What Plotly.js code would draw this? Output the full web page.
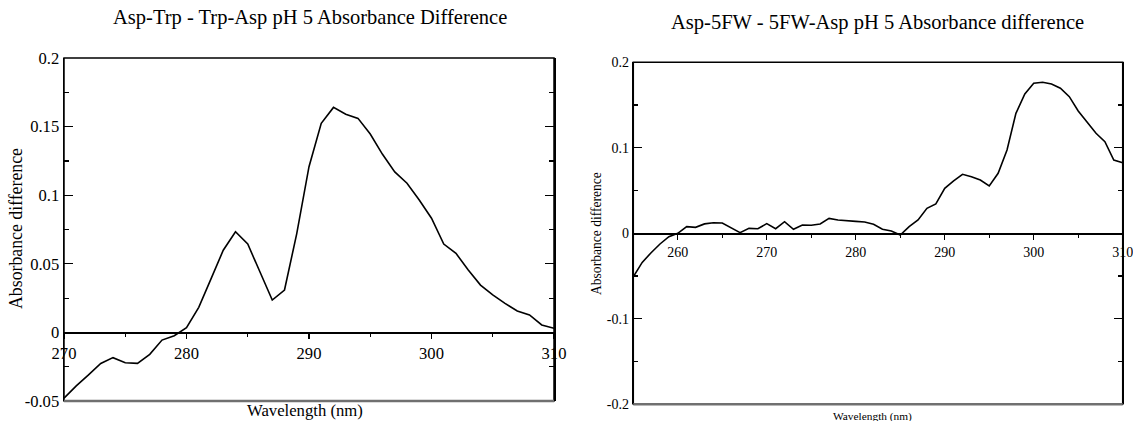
<!DOCTYPE html>
<html>
<head>
<meta charset="utf-8">
<script src="https://cdn.plot.ly/plotly-3.0.1.min.js"></script>
<style>html,body{margin:0;padding:0;background:#fff;}#chart{width:1133px;height:421px;}</style>
</head>
<body>
<div id="chart"></div>
<script>
// ---- Data ----
const wavelengthA = [270,271,272,273,274,275,276,277,278,279,280,281,282,283,284,285,286,287,288,289,290,
                     291,292,293,294,295,296,297,298,299,300,301,302,303,304,305,306,307,308,309,310];
const absDiffA = [-0.048,-0.039,-0.031,-0.0226,-0.0184,-0.0221,-0.0226,-0.016,-0.0056,-0.0024,0.0034,
                  0.0183,0.039,0.0599,0.0734,0.0644,0.044,0.0236,0.0309,0.072,0.1208,
                  0.1524,0.164,0.159,0.156,0.1446,0.1298,0.117,0.1087,0.0965,0.0832,
                  0.0644,0.0576,0.0455,0.0345,0.0273,0.0212,0.0156,0.0127,0.0054,0.003];
const wavelengthB = [255,256,257,258,259,260,261,262,263,264,265,266,267,268,269,270,271,272,273,274,275,
                     276,277,278,279,280,281,282,283,284,285,286,287,288,289,290,291,292,293,294,295,
                     296,297,298,299,300,301,302,303,304,305,306,307,308,309,310];
const absDiffB = [-0.051,-0.034,-0.0227,-0.0125,-0.004,0.0,0.0078,0.007,0.011,0.0124,0.012,
                  0.0066,0.0008,0.0058,0.0054,0.0113,0.0054,0.0136,0.0047,0.0097,0.0094,
                  0.0109,0.0175,0.0156,0.0144,0.014,0.0132,0.0105,0.0047,0.0027,-0.002,
                  0.0078,0.0156,0.0292,0.0343,0.0526,0.0612,0.069,0.0662,0.0623,0.0553,
                  0.0702,0.0974,0.1403,0.163,0.1754,0.1766,0.1746,0.1696,0.1598,0.143,
                  0.1305,0.117,0.1071,0.0857,0.0826];
const yTickValsA = [-0.05,0,0.05,0.1,0.15,0.2];
const yTickTextA = ['-0.05','0','0.05','0.1','0.15','0.2'];
const yTickValsB = [-0.2,-0.1,0,0.1,0.2];
const yTickTextB = ['-0.2','-0.1','0','0.1','0.2'];
const titleA = 'Asp-Trp - Trp-Asp pH 5 Absorbance Difference';
const titleB = 'Asp-5FW - 5FW-Asp pH 5 Absorbance difference';
const xTitle = 'Wavelength (nm)';
const yTitle = 'Absorbance difference';

// ---- Layout geometry ----
const W = 1133, H = 421;
const serif = '"Liberation Serif", "Times New Roman", Times, serif';
// font size that gives a text a wanted width (px), measured with the same font
const cv = document.createElement('canvas').getContext('2d');
function fit(text, width){
  cv.font = '100px ' + serif;
  return 100 * width / cv.measureText(text).width;
}
const fsTitleA = fit(titleA, 396), fsTitleB = fit(titleB, 415);
const fsXTA = fit(xTitle, 116), fsXTB = fit(xTitle, 79);
const fsYTA = fit(yTitle, 161), fsYTB = fit(yTitle, 123);
const fsTickA = fit('0.15', 29), fsTickB = fit('0.2', 17.5);

const domXA = [64/W, 554/W], domYA = [(H-401)/H, (H-58)/H];
const domXB = [633.3/W, 1122.7/W], domYB = [(H-404.3)/H, (H-62.3)/H];
const rangeYA = [-0.05, 0.2], rangeYB = [-0.2, 0.2];
function zeroPos(dom, r){ return dom[0] + (0 - r[0])/(r[1]-r[0])*(dom[1]-dom[0]); }

const traces = [
  {x: wavelengthA, y: absDiffA, type:'scatter', mode:'lines', line:{color:'#000', width:1.6}, xaxis:'x', yaxis:'y', hoverinfo:'skip'},
  {x: wavelengthB, y: absDiffB, type:'scatter', mode:'lines', line:{color:'#000', width:1.6}, xaxis:'x2', yaxis:'y2', hoverinfo:'skip'}
];

function xAx(dom, range, tick0, pos, fs){
  return {domain: dom, range: range, anchor:'free', position: pos, tick0: tick0, dtick:10,
    ticks:'outside', ticklen:5, tickwidth:1.2, tickcolor:'#000', showline:true, linecolor:'#000', linewidth:1.5,
    showgrid:false, zeroline:false, ticklabeloverflow:'allow', tickfont:{family:serif, size:fs, color:'#000'},
    minor:{dtick:5, ticklen:3, ticks:'outside', tickcolor:'#000', tickwidth:1.2, showgrid:false}, fixedrange:true};
}
function yAx(dom, range, anchor, vals, text, mdt, fs){
  return {domain: dom, range: range, anchor: anchor, tickmode:'array', tickvals: vals, ticktext: text,
    ticks:'inside', ticklen:9, tickwidth:1.2, tickcolor:'#000', showline:true, linecolor:'#000', linewidth:1.5,
    mirror:'ticks', showgrid:false, zeroline:false, ticklabeloverflow:'allow', tickfont:{family:serif, size:fs, color:'#000'},
    minor:{dtick:mdt, ticklen:5, ticks:'inside', tickcolor:'#000', tickwidth:1.2, showgrid:false}, fixedrange:true};
}
function ann(text, x, y, fs, angle){
  return {text:text, xref:'paper', yref:'paper', x:x/W, y:1-y/H, xanchor:'center', yanchor:'middle',
    textangle: angle || 0, showarrow:false, font:{family:serif, size:fs, color:'#000'}};
}

const layout = {
  width: W, height: H, margin:{l:0,r:0,t:0,b:0}, showlegend:false,
  paper_bgcolor:'#fff', plot_bgcolor:'#fff',
  font:{family:serif},
  xaxis: xAx(domXA, [270,310], 270, zeroPos(domYA, rangeYA), fsTickA),
  yaxis: yAx(domYA, rangeYA, 'x', yTickValsA, yTickTextA, 0.025, fsTickA),
  xaxis2: xAx(domXB, [255,310], 260, zeroPos(domYB, rangeYB), fsTickB),
  yaxis2: yAx(domYB, rangeYB, 'x2', yTickValsB, yTickTextB, 0.05, fsTickB),
  shapes: [
    {type:'rect', xref:'x domain', yref:'y domain', x0:0, x1:1, y0:0, y1:1, line:{color:'#000', width:1.5}},
    {type:'line', xref:'x domain', yref:'y domain', x0:0, x1:1, y0:0, y1:0, line:{color:'#707070', width:2.5}},
    {type:'rect', xref:'x2 domain', yref:'y2 domain', x0:0, x1:1, y0:0, y1:1, line:{color:'#000', width:1.5}},
    {type:'line', xref:'x2 domain', yref:'y2 domain', x0:0, x1:1, y0:0, y1:0, line:{color:'#707070', width:2.5}}
  ],
  annotations: [
    ann(titleA, 310, 17.5, fsTitleA),
    ann(titleB, 877.5, 22.5, fsTitleB),
    ann(xTitle, 305, 410, fsXTA),
    ann(xTitle, 872, 416, fsXTB),
    ann(yTitle, 15.5, 228.5, fsYTA, -90),
    ann(yTitle, 596.5, 233.5, fsYTB, -90)
  ]
};
Plotly.newPlot('chart', traces, layout, {staticPlot:true, displayModeBar:false});
</script>
</body>
</html>
